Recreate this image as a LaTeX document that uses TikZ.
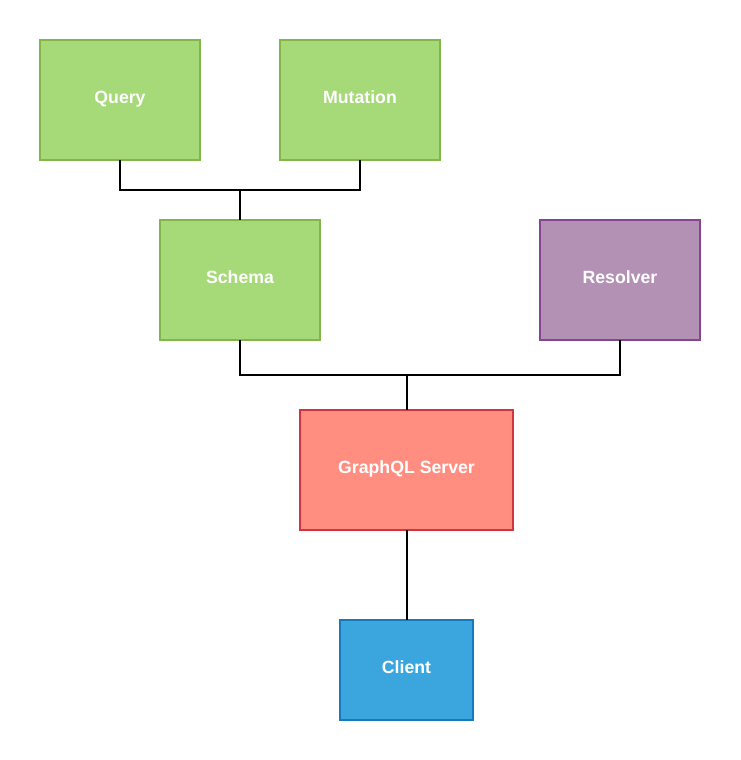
\documentclass[tikz,border=0pt]{standalone}
\usepackage{fontspec}
\setmainfont{Liberation Sans}
\usetikzlibrary{positioning,calc}
\definecolor{schema_fill_colour}{HTML}{A6D977}
\definecolor{schema_draw_colour}{HTML}{82B54A}
\definecolor{resolver_fill_colour}{HTML}{B391B5}
\definecolor{resolver_draw_colour}{HTML}{86468F}
\definecolor{server_fill_colour}{HTML}{FF8D80}
\definecolor{server_draw_colour}{HTML}{CF3640}
\definecolor{client_fill_colour}{HTML}{3BA5DD}
\definecolor{client_draw_colour}{HTML}{167BBA}
\tikzstyle{component_node} =[draw,line width=2pt,outer sep=0pt,inner sep=0pt,minimum width=160pt,minimum height=120pt,text height=12.8pt,text depth=5.5pt,text=white,font=\bfseries\fontsize{17.7}{20}\selectfont]
\tikzstyle{schema_part_node} =[component_node,fill=schema_fill_colour,draw=schema_draw_colour]
\tikzstyle{resolver_node} =[component_node,fill=resolver_fill_colour,draw=resolver_draw_colour]
\tikzstyle{server_node} =[component_node,fill=server_fill_colour,draw=server_draw_colour,minimum width=213pt]
\tikzstyle{client_node} =[component_node,fill=client_fill_colour,draw=client_draw_colour,minimum width=133pt,minimum height=100pt]
\begin{document}
\begin{tikzpicture}[x=1pt,y=-1pt,line width=2pt]

    \useasboundingbox (0,0) rectangle (740,760);

    % Schema parts
    \node[schema_part_node] (query_node) at (120,100) {Query};
    \node[schema_part_node] (mutation_node) at (360,100) {Mutation};
    \node[schema_part_node] (schema_node) at (240,280) {Schema};
    \node[resolver_node] (resolver_node) at (620,280) {Resolver};

    % Server and client
    \node[server_node] (graphql_server_node) at (406.5,470) {GraphQL Server};
    \node[client_node] (client_node) at (406.5,670) {Client};

    % Query and Mutation to Schema
    \coordinate (schema_join) at (240,190);
    \draw (query_node.south) |- (schema_join);
    \draw (mutation_node.south) |- (schema_join);
    \draw (schema_join) -- (schema_node.north);

    % Schema and Resolver to Server
    \coordinate (server_join) at (406.5,375);
    \draw (schema_node.south) |- (server_join);
    \draw (resolver_node.south) |- (server_join);
    \draw (server_join) -- (graphql_server_node.north);

    % Server to Client
    \draw (graphql_server_node) -- (client_node);

\end{tikzpicture}
\end{document}
